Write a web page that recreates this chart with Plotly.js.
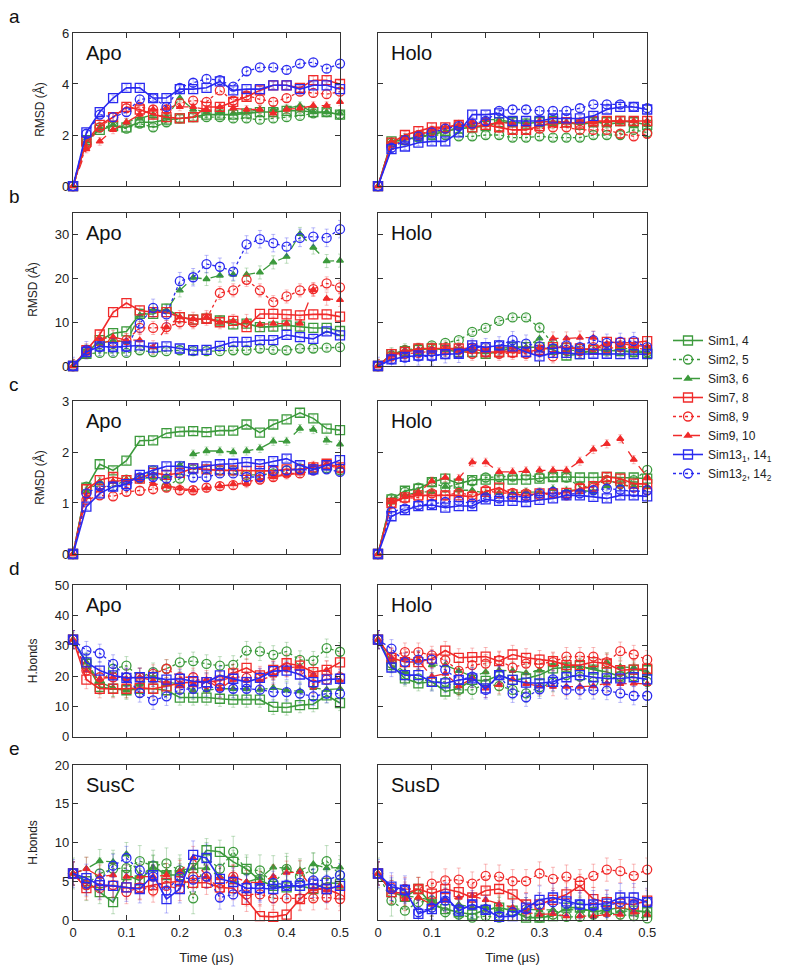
<!DOCTYPE html>
<html>
<head>
<meta charset="utf-8">
<script src="https://cdn.plot.ly/plotly-3.0.1.min.js"></script>
<style>
  body { margin: 0; background: #fff; }
  #myDiv { width: 800px; height: 976px; }
</style>
</head>
<body>
<div id="myDiv"></div>
<script>
var times = [0, 0.025, 0.05, 0.075, 0.1, 0.125, 0.15, 0.175, 0.2, 0.225, 0.25,
             0.275, 0.3, 0.325, 0.35, 0.375, 0.4, 0.425, 0.45, 0.475, 0.5];

// a: backbone RMSD, Apo
var aApo1  = [0, 1.8, 2.2, 2.35, 2.3, 2.5, 2.5, 2.6, 2.65, 2.7, 2.8, 2.8, 2.8, 2.85, 2.9, 2.9, 2.95, 2.95, 2.9, 2.9, 2.8];
var aApo2  = [0, 1.7, 2.3, 2.35, 2.25, 2.45, 2.3, 2.5, 2.65, 2.7, 2.7, 2.7, 2.65, 2.65, 2.6, 2.65, 2.7, 2.75, 2.85, 2.9, 2.8];
var aApo3  = [0, 1.75, 2.25, 2.4, 2.5, 2.65, 2.8, 2.7, 3.45, 3.0, 2.9, 2.9, 2.85, 2.9, 3.0, 3.0, 3.05, 3.15, 2.9, 2.9, 2.85];
var aApo7  = [0, 1.75, 2.4, 2.7, 3.1, 3.0, 2.8, 2.7, 2.65, 2.7, 3.1, 3.1, 3.3, 3.5, 3.75, 3.95, 3.95, 3.85, 4.15, 4.15, 4.0];
var aApo8  = [0, 1.6, 2.3, 2.7, 3.05, 3.1, 3.0, 3.0, 3.25, 3.35, 3.3, 3.75, 3.35, 3.55, 3.4, 3.3, 3.45, 3.7, 3.65, 3.6, 3.7];
var aApo9  = [0, 1.45, 1.75, 2.2, 2.5, 2.8, 3.0, 3.05, 3.1, 3.1, 3.0, 3.1, 3.05, 3.0, 3.0, 2.85, 3.0, 3.05, 3.15, 3.15, 3.3];
var aApo13 = [0, 2.1, 2.9, 3.45, 3.85, 3.85, 3.45, 3.45, 3.8, 3.8, 3.85, 4.1, 3.75, 3.8, 3.8, 3.95, 3.95, 3.8, 3.95, 3.95, 3.8];
var aApo14 = [0, 2.05, 2.8, 2.7, 2.9, 3.4, 3.45, 3.1, 3.85, 4.05, 4.2, 4.15, 3.9, 4.5, 4.65, 4.65, 4.55, 4.8, 4.85, 4.6, 4.8];
// a: Holo
var aHolo1  = [0, 1.75, 1.8, 1.95, 2.0, 2.15, 2.25, 2.3, 2.35, 2.5, 2.5, 2.45, 2.5, 2.55, 2.5, 2.4, 2.5, 2.5, 2.55, 2.5, 2.4];
var aHolo2  = [0, 1.7, 1.8, 1.9, 2.0, 2.0, 1.95, 1.95, 2.0, 2.0, 1.9, 1.9, 1.95, 1.9, 1.9, 1.9, 2.0, 2.0, 2.0, 2.2, 2.1];
var aHolo3  = [0, 1.75, 1.9, 2.0, 2.1, 2.15, 2.3, 2.4, 2.6, 2.6, 2.5, 2.5, 2.4, 2.4, 2.5, 2.5, 2.55, 2.4, 2.5, 2.35, 2.4];
var aHolo7  = [0, 1.7, 2.0, 2.15, 2.3, 2.3, 2.4, 2.3, 2.4, 2.3, 2.2, 2.2, 2.35, 2.5, 2.5, 2.45, 2.55, 2.55, 2.55, 2.55, 2.55];
var aHolo8  = [0, 1.6, 1.8, 2.0, 2.15, 2.25, 2.4, 2.4, 2.5, 2.3, 2.2, 2.2, 2.25, 2.3, 2.3, 2.2, 2.2, 2.2, 2.05, 1.95, 2.05];
var aHolo9  = [0, 1.7, 1.9, 2.0, 2.2, 2.3, 2.4, 2.5, 2.4, 2.5, 2.45, 2.4, 2.55, 2.5, 2.5, 2.55, 2.5, 2.55, 2.55, 2.55, 2.55];
var aHolo13 = [0, 1.45, 1.55, 1.7, 1.75, 1.75, 2.1, 2.8, 2.8, 2.85, 2.55, 2.55, 2.55, 2.65, 2.65, 2.65, 2.75, 3.0, 3.1, 3.1, 3.0];
var aHolo14 = [0, 1.5, 1.8, 1.95, 2.1, 2.25, 2.35, 2.45, 2.55, 2.95, 3.0, 3.0, 2.95, 2.95, 2.95, 3.05, 3.2, 3.2, 3.2, 3.1, 3.05];

// b: loop RMSD
var bApo1  = [0, 2.8, 5.9, 7.5, 7.9, 11.9, 11.9, 13.1, 11.2, 10.6, 10.8, 10.4, 9.5, 9.7, 8.9, 9.0, 9.3, 9.0, 8.7, 8.7, 8.0];
var bApo2  = [0, 2.8, 3.0, 3.0, 3.0, 3.6, 3.2, 3.4, 3.6, 3.4, 3.4, 3.4, 3.6, 3.6, 4.0, 3.7, 3.6, 4.0, 4.0, 4.2, 4.3];
var bApo3  = [0, 3.4, 5.1, 5.9, 5.5, 11.6, 12.7, 12.7, 17.3, 20.2, 19.9, 20.7, 20.9, 20.9, 21.4, 23.7, 25.0, 30.2, 27.1, 24.0, 24.1];
var bApo7  = [0, 3.6, 7.2, 12.3, 14.4, 12.7, 12.3, 12.3, 11.2, 10.6, 10.8, 10.0, 10.3, 8.9, 11.9, 11.9, 11.8, 11.6, 11.8, 11.8, 11.3];
var bApo8  = [0, 3.6, 5.5, 5.5, 5.9, 8.7, 8.7, 8.9, 10.0, 10.0, 10.8, 16.7, 17.3, 19.7, 17.3, 14.6, 15.9, 17.3, 17.6, 18.9, 18.0];
var bApo9  = [0, 3.2, 6.2, 6.6, 5.9, 5.9, 4.3, 8.9, 11.2, 10.8, 11.2, 10.0, 10.3, 10.3, 9.5, 9.7, 9.7, 9.7, 17.4, 15.4, 15.1];
var bApo13 = [0, 3.2, 4.5, 4.3, 4.5, 4.7, 4.2, 4.5, 4.0, 3.6, 3.7, 4.6, 5.5, 5.5, 5.9, 5.9, 7.1, 6.6, 6.2, 7.9, 7.0];
var bApo14 = [0, 3.6, 4.3, 4.3, 4.3, 9.7, 13.3, 11.8, 19.4, 20.3, 23.3, 22.7, 21.6, 27.8, 29.0, 28.1, 27.3, 29.3, 29.6, 29.3, 31.3];
var bHolo1  = [0, 2.7, 3.4, 3.7, 4.0, 3.7, 3.2, 3.2, 2.8, 3.2, 4.3, 4.3, 4.3, 3.7, 2.4, 2.7, 3.7, 3.6, 3.4, 3.2, 3.0];
var bHolo2  = [0, 2.4, 3.7, 4.0, 4.7, 5.3, 5.9, 7.8, 8.7, 10.3, 11.1, 11.1, 8.8, 5.1, 4.3, 4.0, 3.7, 3.7, 3.6, 3.2, 3.2];
var bHolo3  = [0, 2.7, 3.6, 3.7, 4.0, 3.7, 3.6, 3.6, 3.4, 4.0, 4.3, 4.3, 6.3, 4.3, 3.7, 3.4, 3.2, 3.7, 4.3, 3.6, 3.2];
var bHolo7  = [0, 2.7, 3.2, 4.0, 4.0, 4.0, 4.0, 4.0, 3.2, 3.2, 3.2, 3.2, 3.7, 4.3, 4.2, 4.0, 3.7, 5.5, 5.3, 5.3, 5.7];
var bHolo8  = [0, 2.2, 2.8, 3.0, 3.4, 3.6, 3.7, 2.8, 3.2, 2.8, 3.0, 2.8, 3.4, 2.2, 3.7, 3.4, 4.3, 4.0, 4.3, 4.2, 3.7];
var bHolo9  = [0, 2.4, 3.2, 3.7, 3.7, 4.0, 3.7, 4.3, 3.6, 3.4, 3.4, 3.7, 4.0, 6.3, 6.3, 6.5, 6.5, 5.1, 5.1, 4.7, 4.5];
var bHolo13 = [0, 1.5, 2.1, 2.4, 2.4, 2.7, 2.8, 4.7, 4.3, 4.7, 4.5, 3.2, 2.2, 3.0, 3.0, 2.7, 2.8, 2.8, 2.7, 2.7, 2.7];
var bHolo14 = [0, 1.5, 1.9, 2.2, 2.2, 2.7, 2.8, 4.2, 4.3, 4.7, 5.9, 5.1, 4.5, 4.0, 4.7, 4.3, 5.9, 5.3, 5.5, 5.7, 4.3];

// c: RMSD
var cApo1  = [0, 1.3, 1.76, 1.64, 1.83, 2.22, 2.23, 2.37, 2.4, 2.41, 2.39, 2.42, 2.42, 2.54, 2.38, 2.54, 2.64, 2.77, 2.66, 2.46, 2.43];
var cApo2  = [0, 1.32, 1.33, 1.32, 1.46, 1.48, 1.64, 1.32, 1.48, 1.66, 1.66, 1.64, 1.64, 1.55, 1.55, 1.58, 1.64, 1.68, 1.68, 1.68, 1.64];
var cApo3  = [0, 1.22, 1.42, 1.42, 1.46, 1.48, 1.5, 1.52, 1.74, 1.96, 2.02, 2.02, 2.0, 2.02, 2.07, 2.21, 2.21, 2.46, 2.44, 2.23, 2.15];
var cApo7  = [0, 1.27, 1.45, 1.51, 1.45, 1.48, 1.59, 1.55, 1.59, 1.68, 1.66, 1.64, 1.64, 1.63, 1.63, 1.63, 1.66, 1.66, 1.7, 1.77, 1.7];
var cApo8  = [0, 1.06, 1.15, 1.13, 1.22, 1.24, 1.27, 1.3, 1.25, 1.25, 1.3, 1.33, 1.35, 1.42, 1.46, 1.51, 1.58, 1.58, 1.64, 1.74, 1.68];
var cApo9  = [0, 1.12, 1.25, 1.42, 1.45, 1.46, 1.38, 1.33, 1.29, 1.25, 1.29, 1.33, 1.37, 1.38, 1.45, 1.51, 1.55, 1.58, 1.74, 1.77, 1.71];
var cApo13 = [0, 0.93, 1.19, 1.32, 1.37, 1.55, 1.64, 1.72, 1.72, 1.68, 1.72, 1.76, 1.77, 1.8, 1.76, 1.82, 1.87, 1.74, 1.66, 1.74, 1.84];
var cApo14 = [0, 1.19, 1.33, 1.32, 1.33, 1.5, 1.51, 1.48, 1.58, 1.5, 1.51, 1.58, 1.58, 1.51, 1.51, 1.63, 1.64, 1.66, 1.64, 1.66, 1.61];
var cHolo1  = [0, 1.07, 1.24, 1.28, 1.41, 1.48, 1.38, 1.45, 1.46, 1.46, 1.46, 1.46, 1.48, 1.51, 1.51, 1.5, 1.5, 1.51, 1.5, 1.5, 1.48];
var cHolo2  = [0, 1.09, 1.22, 1.3, 1.41, 1.3, 1.38, 1.43, 1.5, 1.51, 1.52, 1.54, 1.51, 1.51, 1.5, 1.32, 1.33, 1.45, 1.37, 1.45, 1.65];
var cHolo3  = [0, 1.06, 1.15, 1.22, 1.22, 1.32, 1.25, 1.25, 1.19, 1.2, 1.2, 1.22, 1.22, 1.28, 1.25, 1.25, 1.22, 1.33, 1.35, 1.33, 1.32];
var cHolo7  = [0, 1.0, 1.11, 1.15, 1.15, 1.15, 1.15, 1.12, 1.22, 1.3, 1.17, 1.15, 1.19, 1.19, 1.2, 1.28, 1.33, 1.51, 1.48, 1.38, 1.37];
var cHolo8  = [0, 0.99, 1.09, 1.11, 1.19, 1.15, 1.2, 1.15, 1.25, 1.19, 1.2, 1.19, 1.15, 1.19, 1.15, 1.3, 1.3, 1.45, 1.38, 1.3, 1.25];
var cHolo9  = [0, 1.02, 1.12, 1.2, 1.43, 1.5, 1.48, 1.8, 1.8, 1.61, 1.61, 1.63, 1.64, 1.64, 1.64, 1.82, 2.05, 2.16, 2.26, 1.85, 1.51];
var cHolo13 = [0, 0.74, 0.86, 0.94, 0.96, 0.91, 0.94, 0.94, 1.07, 1.04, 1.04, 1.02, 1.06, 1.09, 1.15, 1.15, 1.12, 1.09, 1.15, 1.15, 1.13];
var cHolo14 = [0, 0.83, 0.89, 0.96, 0.98, 1.02, 1.04, 0.99, 1.11, 1.09, 1.12, 1.13, 1.19, 1.22, 1.17, 1.19, 1.25, 1.28, 1.26, 1.22, 1.25];

// d: H-bonds
var dApo1  = [32, 24, 16.4, 15.8, 15.3, 15.8, 15.8, 15.3, 12.9, 12.9, 12.9, 12.5, 12.2, 12.2, 12.2, 9.8, 9.6, 10.4, 10.7, 13.6, 11.1];
var dApo2  = [32, 24.5, 17.4, 22.4, 23.4, 19.6, 21.3, 22.4, 24.5, 24.9, 24, 23.4, 23.7, 28.4, 28.1, 27, 28.1, 25.3, 25.1, 29.2, 28];
var dApo3  = [32, 24.5, 18, 16.1, 15.3, 17.2, 19.6, 18, 17.4, 15.3, 15.3, 15.8, 15.8, 15.8, 15.5, 16.1, 15.3, 15.0, 16.1, 15.5, 15.8];
var dApo7  = [32, 18.8, 15.8, 15.8, 15.8, 16.1, 15.8, 16.6, 17.7, 18, 18, 18.5, 20.9, 22.7, 20.2, 22, 24.2, 23.4, 21.3, 22, 24.5];
var dApo8  = [32, 21.8, 19.6, 19.6, 19.6, 19.6, 20.7, 22.4, 19.6, 19.6, 17.4, 18.3, 19.8, 19.4, 19.6, 21.8, 22.9, 22, 17.2, 18.8, 19.6];
var dApo9  = [32, 21.8, 19.1, 19.6, 19.1, 19.6, 18.5, 17.7, 16.9, 17.4, 18.8, 15.8, 18.8, 18.5, 18.5, 20.2, 22.7, 23.1, 20.5, 22, 18.5];
var dApo13 = [32, 24.5, 21.8, 20.2, 19.4, 19.6, 19.6, 18.8, 19.1, 18.3, 18, 20.2, 19.1, 18, 19.4, 21.6, 21.8, 20.5, 18, 18.8, 19.1];
var dApo14 = [32, 28.4, 27.5, 24, 19.6, 14.4, 12, 13.3, 15.5, 15.8, 16.4, 16.1, 15.8, 15.8, 15.5, 14.7, 14.7, 14.2, 13.3, 14.2, 14.2];
var dHolo1  = [32, 23.6, 19.2, 17.6, 18.1, 14.9, 15.9, 18.7, 18.4, 20.3, 18.7, 19.2, 20.3, 22.5, 22.8, 23.3, 22.1, 21.3, 19.8, 22.1, 21.9];
var dHolo2  = [32, 24.1, 20.3, 19.2, 18.1, 18.1, 15.4, 15.4, 17.4, 16.7, 15.4, 14.3, 16.3, 17.8, 20.3, 19.8, 18.1, 18.9, 20, 19.8, 18.1];
var dHolo3  = [32, 24.6, 21.3, 25.2, 23.6, 23.6, 21.7, 19.8, 21.3, 21.9, 21.7, 21, 21.9, 23.6, 23.3, 22.5, 22.8, 24.6, 23, 22.8, 21];
var dHolo7  = [32, 26, 24.6, 24.6, 25.7, 28.4, 26, 26.2, 26.4, 24.9, 27.1, 26, 25.4, 24.9, 23.6, 23.6, 24.6, 24.1, 21.9, 22.1, 22.4];
var dHolo8  = [32, 26.4, 27.9, 27.9, 26.8, 25.2, 21.7, 23.6, 24.1, 25.2, 22.8, 24.1, 24.1, 24.6, 26.4, 26.4, 26.4, 24.6, 28.2, 27.1, 25.4];
var dHolo9  = [32, 26, 25.7, 25.2, 19.8, 20.8, 16.7, 19.2, 15.9, 17.1, 18.9, 17.4, 16.7, 16.5, 16.5, 16.5, 16.7, 17.6, 17.4, 17.6, 17.4];
var dHolo13 = [32, 22.8, 20.3, 20.3, 18.1, 17.6, 18.7, 19.2, 15.9, 20.3, 18.7, 17.8, 17.6, 18.1, 19.6, 20.3, 19.6, 19.2, 19.2, 19.6, 18.9];
var dHolo14 = [32, 29, 24.6, 25.4, 25.4, 22.1, 18.7, 19.8, 15.4, 20.3, 14.3, 13, 15.6, 18.9, 15.4, 15.4, 15.4, 15.2, 14.3, 13.5, 13.5];

// e: H-bonds, SusC / SusD
var eSusC1  = [6, 5.0, 3.6, 2.3, 5.8, 5.1, 6.9, 5.8, 5.8, 6.7, 9.0, 8.8, 7.5, 6.6, 5.1, 4.4, 4.2, 4.4, 4.0, 4.8, 4.7];
var eSusC2  = [6, 4.5, 6.0, 6.6, 6.7, 7.6, 7.0, 7.3, 6.4, 2.8, 8.0, 6.6, 8.8, 6.4, 6.4, 4.7, 6.6, 5.6, 6.6, 7.6, 5.8];
var eSusC3  = [6, 6.6, 7.6, 7.5, 8.5, 5.8, 6.8, 6.2, 6.4, 6.7, 6.7, 5.6, 4.9, 4.9, 5.4, 6.8, 6.7, 6.4, 7.2, 6.7, 6.8];
var eSusC7  = [6, 4.1, 4.5, 4.4, 4.2, 4.1, 4.5, 4.8, 5.0, 4.8, 4.8, 4.2, 4.1, 2.6, 0.5, 0.4, 0.7, 2.7, 4.1, 4.0, 3.3];
var eSusC8  = [6, 4.5, 4.1, 4.5, 3.6, 4.2, 3.8, 4.4, 4.0, 5.6, 5.6, 4.0, 5.6, 3.3, 3.3, 2.8, 2.8, 2.8, 2.8, 2.9, 2.7];
var eSusC9  = [6, 6.6, 5.6, 5.8, 5.6, 5.6, 5.6, 5.8, 6.2, 8.0, 5.6, 5.4, 5.6, 4.9, 4.8, 5.6, 6.1, 6.2, 4.0, 3.9, 4.4];
var eSusC13 = [6, 5.4, 4.5, 4.4, 4.2, 4.0, 5.8, 2.7, 4.0, 8.4, 8.0, 5.3, 4.9, 4.1, 4.1, 4.0, 4.4, 4.4, 4.7, 4.0, 4.4];
var eSusC14 = [6, 4.7, 5.0, 7.0, 8.0, 6.4, 5.6, 3.8, 5.6, 5.2, 5.6, 2.9, 3.3, 4.2, 4.0, 4.8, 4.5, 4.8, 5.1, 5.1, 5.8];
var eSusD1  = [6, 3.6, 3.0, 4.0, 2.0, 1.4, 1.0, 0.7, 1.3, 1.6, 1.2, 0.3, 0.3, 0.5, 1.6, 1.6, 1.0, 1.3, 1.6, 1.2, 1.0];
var eSusD2  = [6, 2.5, 1.2, 2.3, 2.5, 1.0, 0.7, 0.3, 0.5, 0.3, 1.0, 0.5, 0.3, 0.7, 0.4, 0.4, 0.7, 1.0, 0.7, 0.5, 0.2];
var eSusD3  = [6, 3.8, 3.1, 2.9, 2.5, 2.7, 2.0, 1.6, 1.7, 1.4, 1.4, 1.4, 1.3, 1.3, 1.4, 1.2, 1.3, 1.2, 1.1, 1.2, 1.1];
var eSusD7  = [6, 3.6, 3.4, 4.0, 3.4, 4.0, 3.6, 2.9, 3.8, 4.0, 3.3, 2.0, 2.0, 2.6, 3.3, 4.4, 2.7, 2.3, 2.1, 2.0, 2.5];
var eSusD8  = [6, 4.2, 4.0, 4.0, 4.7, 5.1, 5.2, 4.7, 5.7, 5.6, 5.0, 5.0, 6.0, 5.3, 5.6, 5.0, 5.7, 6.5, 6.3, 5.7, 6.5];
var eSusD9  = [6, 3.6, 2.7, 2.9, 2.0, 2.5, 2.9, 3.1, 2.6, 2.0, 1.6, 1.0, 0.7, 0.8, 0.5, 0.5, 0.5, 0.7, 0.7, 1.0, 0.7];
var eSusD13 = [6, 4.3, 3.9, 0.8, 1.4, 3.0, 1.2, 2.0, 1.3, 0.4, 0.5, 1.6, 2.6, 2.9, 2.4, 2.0, 2.0, 2.1, 2.9, 2.9, 2.3];
var eSusD14 = [6, 4.0, 3.8, 1.0, 1.6, 2.5, 1.4, 2.0, 1.4, 0.5, 1.0, 1.4, 2.0, 2.3, 2.1, 2.0, 1.8, 1.8, 2.3, 2.0, 2.3];

// typical error bar half-widths per panel, one per series
var errA = [0.12, 0.12, 0.15, 0.15, 0.15, 0.15, 0.12, 0.15];
var errB = [1.0, 0.6, 1.5, 1.0, 1.5, 1.5, 0.7, 2.0];
var errC = [0.07, 0.07, 0.08, 0.07, 0.07, 0.08, 0.06, 0.07];
var errD = [2.5, 3, 3, 3, 3, 3, 3, 3];
var errE = [1.5, 2, 1.5, 1.5, 1.5, 1.5, 1.8, 1.5];

var seriesNames = ['Sim1, 4', 'Sim2, 5', 'Sim3, 6', 'Sim7, 8', 'Sim8, 9', 'Sim9, 10',
                   'Sim13<sub>1</sub>, 14<sub>1</sub>', 'Sim13<sub>2</sub>, 14<sub>2</sub>'];
var panelNames = ['Apo', 'Holo', 'Apo', 'Holo', 'Apo', 'Holo', 'Apo', 'Holo', 'SusC', 'SusD'];
var rowLetters = ['a', 'b', 'c', 'd', 'e'];
var yTitles = ['RMSD (Å)', 'RMSD (Å)', 'RMSD (Å)', 'H.bonds', 'H.bonds'];
var yRanges = [[0, 6], [0, 35], [0, 3], [0, 50], [0, 20]];
var yDticks = [2, 10, 1, 10, 5];

var panelSeries = [
  [aApo1, aApo2, aApo3, aApo7, aApo8, aApo9, aApo13, aApo14],
  [aHolo1, aHolo2, aHolo3, aHolo7, aHolo8, aHolo9, aHolo13, aHolo14],
  [bApo1, bApo2, bApo3, bApo7, bApo8, bApo9, bApo13, bApo14],
  [bHolo1, bHolo2, bHolo3, bHolo7, bHolo8, bHolo9, bHolo13, bHolo14],
  [cApo1, cApo2, cApo3, cApo7, cApo8, cApo9, cApo13, cApo14],
  [cHolo1, cHolo2, cHolo3, cHolo7, cHolo8, cHolo9, cHolo13, cHolo14],
  [dApo1, dApo2, dApo3, dApo7, dApo8, dApo9, dApo13, dApo14],
  [dHolo1, dHolo2, dHolo3, dHolo7, dHolo8, dHolo9, dHolo13, dHolo14],
  [eSusC1, eSusC2, eSusC3, eSusC7, eSusC8, eSusC9, eSusC13, eSusC14],
  [eSusD1, eSusD2, eSusD3, eSusD7, eSusD8, eSusD9, eSusD13, eSusD14]
];
var rowErr = [errA, errB, errC, errD, errE];

var GREEN = '#3c9a3c', RED = '#f02a2a', BLUE = '#2a2af0';
var styles = [
  {color: GREEN, dash: 'solid', symbol: 'square-open', size: 9, err: 'rgba(60,154,60,0.4)'},
  {color: GREEN, dash: 'dot', symbol: 'circle-open', size: 9, err: 'rgba(60,154,60,0.4)'},
  {color: GREEN, dash: 'dash', symbol: 'triangle-up', size: 6, err: 'rgba(60,154,60,0.4)'},
  {color: RED, dash: 'solid', symbol: 'square-open', size: 9, err: 'rgba(240,42,42,0.4)'},
  {color: RED, dash: 'dot', symbol: 'circle-open', size: 9, err: 'rgba(240,42,42,0.4)'},
  {color: RED, dash: 'dash', symbol: 'triangle-up', size: 6, err: 'rgba(240,42,42,0.4)'},
  {color: BLUE, dash: 'solid', symbol: 'square-open', size: 9, err: 'rgba(42,42,240,0.4)'},
  {color: BLUE, dash: 'dot', symbol: 'circle-open', size: 9, err: 'rgba(42,42,240,0.4)'}
];

var xDomains = [[0.0913, 0.425], [0.4725, 0.809]];
var yDomains = [[0.8094, 0.9662], [0.625, 0.7818], [0.4324, 0.5891], [0.2452, 0.4006], [0.0574, 0.2162]];

var FONT = 'Liberation Sans, Arial, sans-serif';
var data = [];
var layout = {
  width: 800, height: 976,
  margin: {l: 0, r: 0, t: 0, b: 0},
  paper_bgcolor: '#fff', plot_bgcolor: '#fff',
  font: {family: FONT, size: 13, color: '#222'},
  showlegend: true,
  legend: {
    x: 0.835, y: 0.583, xanchor: 'left', yanchor: 'middle',
    font: {size: 12, color: '#222'}, bgcolor: 'rgba(0,0,0,0)', tracegroupgap: 0
  },
  annotations: []
};

panelSeries.forEach(function (series, k) {
  var row = Math.floor(k / 2), col = k % 2;
  var sfx = k === 0 ? '' : String(k + 1);
  series.forEach(function (ys, s) {
    var st = styles[s];
    data.push({
      x: times, y: ys, xaxis: 'x' + sfx, yaxis: 'y' + sfx,
      type: 'scatter', mode: 'lines+markers', name: seriesNames[s],
      legendgroup: 's' + s, showlegend: k === 0, cliponaxis: false,
      line: {color: st.color, width: st.dash === 'solid' ? 1.6 : 1.3, dash: st.dash},
      marker: {symbol: st.symbol, size: st.size, color: st.color, line: {color: st.color, width: 1.3}},
      error_y: {type: 'constant', value: rowErr[row][s], color: st.err, thickness: 0.8, width: 2}
    });
  });

  var common = {
    showline: true, mirror: 'allticks', ticks: 'inside', ticklen: 5, tickwidth: 1,
    linecolor: '#333', linewidth: 1.2, tickcolor: '#333',
    showgrid: false, zeroline: false, automargin: false,
    tickfont: {family: FONT, size: 13, color: '#222'}
  };
  var xa = Object.assign({}, common, {
    domain: xDomains[col], range: [0, 0.5], dtick: 0.1, tick0: 0,
    anchor: 'y' + sfx, showticklabels: row === 4
  });
  if (row === 4) xa.title = {text: 'Time (µs)', font: {size: 13}, standoff: 14};
  layout['xaxis' + sfx] = xa;

  var ya = Object.assign({}, common, {
    domain: yDomains[row], range: yRanges[row], dtick: yDticks[row], tick0: 0,
    anchor: 'x' + sfx, showticklabels: col === 0
  });
  if (col === 0) ya.title = {text: yTitles[row], font: {size: 12}, standoff: 14};
  layout['yaxis' + sfx] = ya;

  layout.annotations.push({
    text: panelNames[k], xref: 'x' + sfx + ' domain', yref: 'y' + sfx + ' domain',
    x: 0.04, y: 0.87, xanchor: 'left', yanchor: 'middle', showarrow: false,
    font: {family: FONT, size: 20, color: '#111'}
  });
  if (col === 0) {
    layout.annotations.push({
      text: rowLetters[row], xref: 'paper', yref: 'paper',
      x: 0.018, y: yDomains[row][1] + 0.017, xanchor: 'center', yanchor: 'middle',
      showarrow: false, font: {family: FONT, size: 19, color: '#111'}
    });
  }
});

Plotly.newPlot('myDiv', data, layout, {displayModeBar: false, staticPlot: true});
</script>
</body>
</html>
